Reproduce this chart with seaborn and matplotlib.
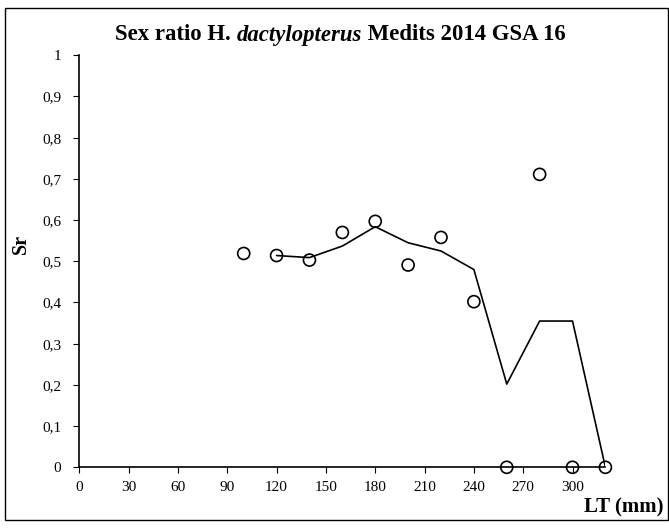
import numpy as np
import pandas as pd
import matplotlib
matplotlib.use('Agg')
import matplotlib.pyplot as plt
import seaborn as sns
from matplotlib.patches import Rectangle

# length classes (mm) and sex ratio values
length_mm = [100, 120, 140, 160, 180, 200, 220, 240, 260, 280, 300, 320]
sr_obs = [0.519, 0.514, 0.503, 0.570, 0.597, 0.491, 0.558, 0.402, 0.0, 0.711, 0.0, 0.0]
sr_smooth = [np.nan, 0.514, 0.509, 0.537, 0.584, 0.545, 0.525, 0.480, 0.202, 0.355, 0.355, 0.0]
x_ticks = [0, 30, 60, 90, 120, 150, 180, 210, 240, 270, 300]
y_ticks = [0, 0.1, 0.2, 0.3, 0.4, 0.5, 0.6, 0.7, 0.8, 0.9, 1.0]
y_tick_labels = ['0', '0,1', '0,2', '0,3', '0,4', '0,5', '0,6', '0,7', '0,8', '0,9', '1']

df = pd.DataFrame({'LT': length_mm, 'obs': sr_obs, 'smooth': sr_smooth})

sns.set_style('ticks')
plt.rcParams['font.family'] = ['Liberation Serif', 'DejaVu Serif']
plt.rcParams['text.color'] = 'black'
plt.rcParams['xtick.color'] = 'black'
plt.rcParams['ytick.color'] = 'black'

fig = plt.figure(figsize=(6.69, 5.28), dpi=100)
ax = fig.add_axes([79.3 / 669, 1 - 467.3 / 528, (605.4 - 79.3) / 669, (467.3 - 55.3) / 528])

sns.lineplot(data=df.dropna(), x='LT', y='smooth', color='black', linewidth=1.2,
             estimator=None, sort=True, ax=ax)
sns.scatterplot(data=df, x='LT', y='obs', marker='o', s=75, facecolor='none',
                edgecolor='black', linewidth=1.2, clip_on=False, zorder=5, ax=ax)

ax.set_xlim(0, 320)
ax.set_ylim(0, 1)
ax.set_xticks(x_ticks)
ax.set_xticklabels([str(t) for t in x_ticks])
ax.set_yticks(y_ticks)
ax.set_yticklabels(y_tick_labels)
ax.tick_params(axis='x', length=4, width=0.8, pad=6, labelsize=11)
ax.tick_params(axis='y', length=4, width=0.8, pad=9, labelsize=11)
ax.set_xlabel('')
ax.set_ylabel('')
for side in ['top', 'right']:
    ax.spines[side].set_visible(False)
for side in ['left', 'bottom']:
    ax.spines[side].set_linewidth(1.2)
    ax.spines[side].set_color('black')

# title with italic species name
t1 = fig.text(115 / 669, 1 - 35 / 528, 'Sex ratio H. ', fontsize=16.4, fontweight='bold',
              ha='left', va='center')
t2 = ax.annotate('dactylopterus', xycoords=t1, xy=(1, 0), va='bottom', ha='left',
                 fontsize=16.4, fontweight='bold', fontstyle='italic')
ax.annotate(' Medits 2014 GSA 16', xycoords=t2, xy=(1, 0), va='bottom', ha='left',
            fontsize=16.4, fontweight='bold')

fig.text(21 / 669, 1 - 244 / 528, 'Sr', rotation=90, fontsize=14.5, fontweight='bold',
         ha='center', va='center')
fig.text(664 / 669, 1 - 507 / 528, 'LT (mm)', fontsize=15, fontweight='bold',
         ha='right', va='center')

fig.patches.append(Rectangle((5.3 / 669, 1 - 519.5 / 528), (667.5 - 5.3) / 669, (519.5 - 8.3) / 528,
                             transform=fig.transFigure, fill=False, edgecolor='black',
                             linewidth=1.0))

plt.savefig('out.png', dpi=100)
plt.close()
